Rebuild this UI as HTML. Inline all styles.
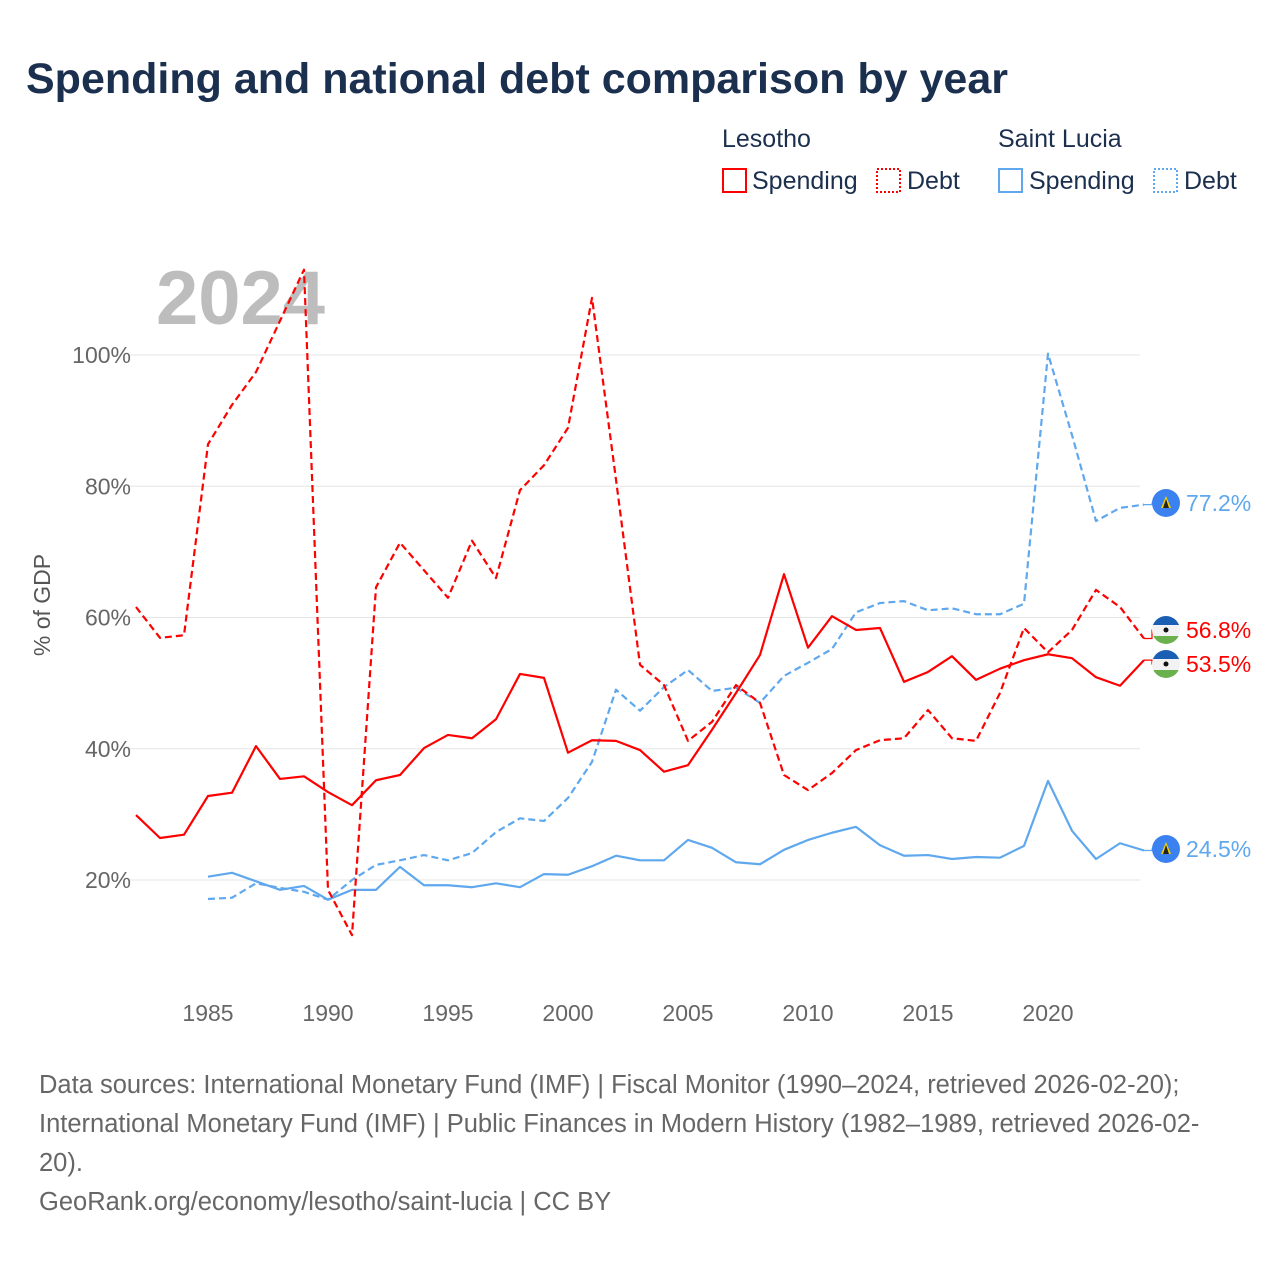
<!DOCTYPE html>
<html><head><meta charset="utf-8"><style>
body{margin:0;background:#fff;font-family:"Liberation Sans",sans-serif;}
#wrap{position:relative;width:1280px;height:1280px;overflow:hidden;}
</style></head><body>
<div id="wrap">
<svg id="svg" width="1280" height="1280" style="position:absolute;left:0;top:0">
<text x="26" y="93" font-size="43" font-weight="bold" fill="#1b2f4e">Spending and national debt comparison by year</text>
<g font-size="25" fill="#1b2f4e">
<text x="722" y="147">Lesotho</text>
<text x="998" y="147">Saint Lucia</text>
<g><rect x="723" y="169" width="23" height="23" fill="none" stroke="#f00" stroke-width="2"/><text x="752" y="189">Spending</text></g>
<g><rect x="877" y="169" width="23" height="23" fill="none" stroke="#f00" stroke-width="2" stroke-dasharray="2,2"/><text x="907" y="189">Debt</text></g>
<g><rect x="999" y="169" width="23" height="23" fill="none" stroke="#5fa8ee" stroke-width="2"/><text x="1029" y="189">Spending</text></g>
<g><rect x="1154" y="169" width="23" height="23" fill="none" stroke="#5fa8ee" stroke-width="2" stroke-dasharray="2,2"/><text x="1184" y="189">Debt</text></g>
</g>
<text x="156" y="324" font-size="76" font-weight="bold" fill="#bdbdbd">2024</text>
<text transform="translate(50,605) rotate(-90)" text-anchor="middle" font-size="23" fill="#555">% of GDP</text>
<g id="grid"></g><g id="series"></g><g id="ends"></g>
<g font-size="25.5" fill="#666">
<text x="39" y="1093">Data sources: International Monetary Fund (IMF) | Fiscal Monitor (1990–2024, retrieved 2026-02-20);</text>
<text x="39" y="1132">International Monetary Fund (IMF) | Public Finances in Modern History (1982–1989, retrieved 2026-02-</text>
<text x="39" y="1171">20).</text>
<text x="39" y="1210">GeoRank.org/economy/lesotho/saint-lucia | CC BY</text>
</g>
</svg>
</div>
<script>
const years=[];for(let y=1982;y<=2024;y++)years.push(y);
const yTicks=[20,40,60,80,100];
const xTicks=[1985,1990,1995,2000,2005,2010,2015,2020];
const lesSpending=[29.9,26.4,26.9,32.8,33.3,40.4,35.4,35.8,33.4,31.4,35.2,36.0,40.1,42.1,41.6,44.5,51.4,50.8,39.4,41.3,41.2,39.8,36.5,37.5,42.9,48.5,54.3,66.6,55.4,60.2,58.1,58.4,50.2,51.7,54.1,50.5,52.2,53.5,54.4,53.8,50.9,49.6,53.5];
const lesDebt=[61.6,56.9,57.3,86.4,92.4,97.4,105.2,113.0,18.5,11.6,64.6,71.4,67.2,63.0,71.7,66.0,79.4,83.2,88.9,108.7,81.0,52.8,49.7,41.2,44.1,49.7,47.0,36.0,33.7,36.3,39.8,41.3,41.6,45.9,41.6,41.2,48.5,58.4,54.7,58.1,64.2,61.6,56.8];
const lucSpending=[null,null,null,20.5,21.1,19.8,18.5,19.1,17.0,18.5,18.5,22.0,19.2,19.2,18.9,19.5,18.9,20.9,20.8,22.1,23.7,23.0,23.0,26.1,24.9,22.7,22.4,24.6,26.1,27.2,28.1,25.3,23.7,23.8,23.2,23.5,23.4,25.2,35.1,27.5,23.2,25.6,24.5];
const lucDebt=[null,null,null,17.1,17.3,19.5,18.8,18.2,17.0,20.0,22.3,23.0,23.8,23.0,24.1,27.3,29.4,29.0,32.5,38.0,49.0,45.8,49.4,52.0,48.8,49.3,47.0,51.1,53.1,55.2,60.8,62.2,62.5,61.1,61.4,60.5,60.5,62.1,100.2,87.8,74.7,76.7,77.2];
const NS="http://www.w3.org/2000/svg";
const xs=y=>136+(y-1982)*24;
const ys=v=>880-(v-20)*6.5625;
function mk(t,a,p){const e=document.createElementNS(NS,t);for(const k in a)e.setAttribute(k,a[k]);p.appendChild(e);return e;}
const grid=document.getElementById('grid');
yTicks.forEach(v=>{
 const l=mk('line',{x1:128,x2:1140,y1:ys(v),y2:ys(v),stroke:'#e6e6e6','stroke-width':1},grid);
 
 
 const t=mk('text',{x:131,y:ys(v)+8,'text-anchor':'end','font-size':23,fill:'#666'},grid);t.textContent=v+'%';
 
 
});
xTicks.forEach(y=>{
 const t=mk('text',{x:xs(y),y:1021,'text-anchor':'middle','font-size':23,fill:'#666'},grid);t.textContent=y;
 
 
});
const ser=document.getElementById('series');
function line(data,color,dash,name){
 let d='';let pen=false;
 data.forEach((v,i)=>{if(v==null){pen=false;return;}d+=(pen?'L':'M')+xs(years[i])+','+ys(v);pen=true;});
 const p=mk('path',{d:d,fill:'none',stroke:color,'stroke-width':2.2,'stroke-linejoin':'round'},ser);
 if(dash)p.setAttribute('stroke-dasharray','7,4');
 
 
}
line(lucDebt,'#5fa8ee',true,'saint-lucia-debt-line');
line(lucSpending,'#5fa8ee',false,'saint-lucia-spending-line');
line(lesDebt,'#ff0000',true,'lesotho-debt-line');
line(lesSpending,'#ff0000',false,'lesotho-spending-line');
const ends=document.getElementById('ends');
function endLabel(v,ly,color,flag,name){
 const g=mk('g',{},ends);
 
 
 mk('path',{d:`M${xs(2024)},${ys(v)}H1152V${ly}H1158`,fill:'none',stroke:color,'stroke-width':1.2},g);
 if(flag==='lc'){
  mk('circle',{cx:1166,cy:ly,r:14,fill:'#3b82f0'},g);
  mk('polygon',{points:`1166,${ly-7} 1171,${ly+5} 1161,${ly+5}`,fill:'#f5d000'},g);
  mk('polygon',{points:`1166,${ly-4} 1169,${ly+5} 1163,${ly+5}`,fill:'#222'},g);
 }else{
  const c=mk('clipPath',{id:'cl'+name},g);mk('circle',{cx:1166,cy:ly,r:14},c);
  const gg=mk('g',{'clip-path':`url(#cl${name})`},g);
  mk('rect',{x:1152,y:ly-14,width:28,height:9,fill:'#1a5fb4'},gg);
  mk('rect',{x:1152,y:ly-5,width:28,height:11,fill:'#f2f2f2'},gg);
  mk('rect',{x:1152,y:ly+6,width:28,height:8,fill:'#6ab04c'},gg);
  mk('circle',{cx:1166,cy:ly,r:2.5,fill:'#111'},gg);
 }
 const t=mk('text',{x:1186,y:ly+8,'font-size':23,fill:color},g);t.textContent=v.toFixed(1)+'%';
}
endLabel(lucDebt[lucDebt.length-1],503,'#5fa8ee','lc','end-label-saint-lucia-debt');
endLabel(lesDebt[lesDebt.length-1],630,'#ff0000','ls','end-label-lesotho-debt');
endLabel(lesSpending[lesSpending.length-1],664,'#ff0000','ls','end-label-lesotho-spending');
endLabel(lucSpending[lucSpending.length-1],849,'#5fa8ee','lc','end-label-saint-lucia-spending');
</script>
</body></html>
